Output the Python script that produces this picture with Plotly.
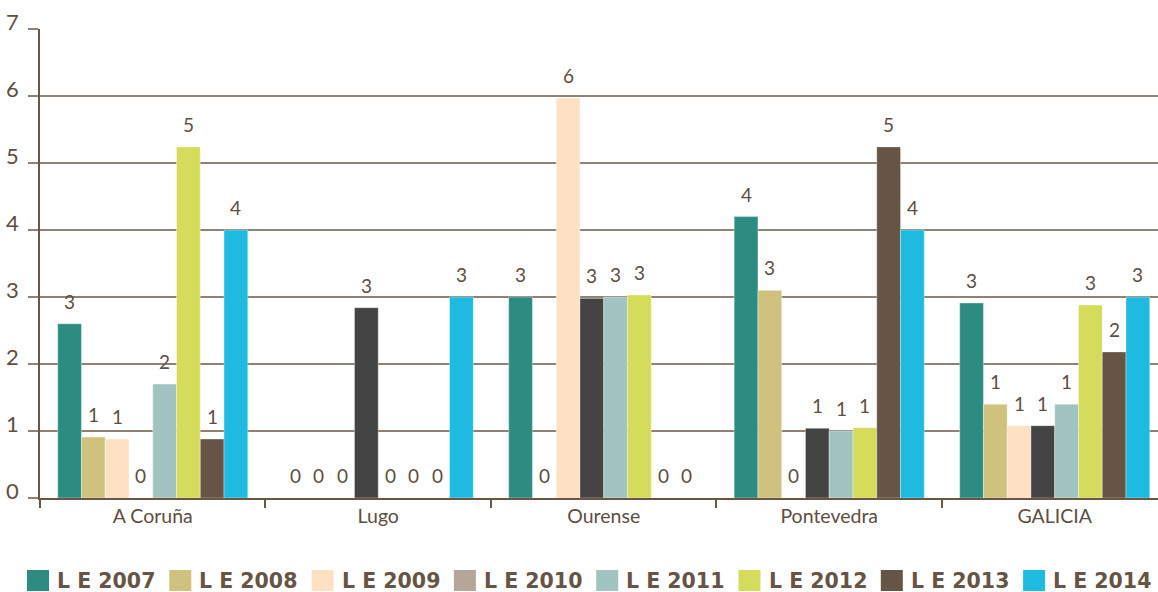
import plotly.graph_objects as go

categories = ["A Coruña", "Lugo", "Ourense", "Pontevedra", "GALICIA"]
series_names = ["L E 2007", "L E 2008", "L E 2009", "L E 2010",
                "L E 2011", "L E 2012", "L E 2013", "L E 2014"]
le_2007 = [2.6, 0.0, 3.0, 4.2, 2.91]
le_2008 = [0.91, 0.0, 0.0, 3.1, 1.40]
le_2009 = [0.88, 0.0, 5.97, 0.0, 1.08]
le_2010 = [0.0, 2.84, 2.98, 1.04, 1.08]
le_2011 = [1.70, 0.0, 3.0, 1.0, 1.40]
le_2012 = [5.24, 0.0, 3.03, 1.05, 2.88]
le_2013 = [0.88, 0.0, 0.0, 5.24, 2.18]
le_2014 = [4.0, 3.0, 0.0, 4.0, 3.0]
y_ticks = [0, 1, 2, 3, 4, 5, 6, 7]

series_values = [le_2007, le_2008, le_2009, le_2010, le_2011, le_2012, le_2013, le_2014]
bar_colors = ["#2d8c82", "#cfc27e", "#fee1c2", "#444444",
              "#a1c4c1", "#d5dc5b", "#665445", "#1fbadf"]
legend_colors = ["#2d8c82", "#cfc27e", "#fee1c2", "#b5a699",
                 "#a1c4c1", "#d5dc5b", "#665445", "#1fbadf"]

TEXT = "#5e4e42"
GRID = "#8f8175"
AXIS = "#6b5545"
FONT = "Lato"

BARGAP = 0.157
n = len(series_names)
bw = (1 - BARGAP) / n

fig = go.Figure()
annotations = []
for i, (name, vals) in enumerate(zip(series_names, series_values)):
    fig.add_trace(go.Bar(
        x=categories, y=vals, name=name, showlegend=False,
        marker=dict(color=bar_colors[i], line=dict(color="rgba(255,255,255,0.35)", width=1)),
        hoverinfo="x+y+name",
    ))
    for ci, v in enumerate(vals):
        xc = ci - (1 - BARGAP) / 2 + (i + 0.5) * bw
        annotations.append(dict(
            x=xc, y=v, xref="x", yref="y", text=str(round(v)),
            showarrow=False, yanchor="bottom", yshift=9,
            font=dict(family=FONT, size=19, color=TEXT),
        ))

# manual legend
PW = 1118.0
PH = 469.0
shapes = []
for i, name in enumerate(series_names):
    px0 = 27 + i * 142.3
    x0 = (px0 - 40) / PW
    x1 = (px0 + 22 - 40) / PW
    y0 = (498 - 591) / PH
    y1 = (498 - 570) / PH
    shapes.append(dict(type="rect", xref="paper", yref="paper", x0=x0, x1=x1, y0=y0, y1=y1,
                       fillcolor=legend_colors[i], line=dict(width=0), layer="above"))
    annotations.append(dict(
        x=(px0 + 28 - 40) / PW, y=(498 - 581) / PH, xref="paper", yref="paper",
        text="<b>" + name + "</b>", showarrow=False, xanchor="left", yanchor="middle",
        font=dict(family="DejaVu Sans", size=20.5, color="#665445"),
    ))

fig.update_layout(
    barmode="group", bargap=BARGAP, bargroupgap=0,
    width=1158, height=592,
    margin=dict(l=40, r=0, t=29, b=94, autoexpand=False),
    paper_bgcolor="white", plot_bgcolor="white",
    font=dict(family=FONT, color=TEXT),
    annotations=annotations, shapes=shapes,
    showlegend=False,
)
fig.update_xaxes(
    type="category", range=[-0.5, 4.458],
    tickson="boundaries", ticks="outside", ticklen=8, tickwidth=1.5, tickcolor=AXIS,
    showline=True, linecolor=AXIS, linewidth=1.5, showgrid=False,
    tickfont=dict(family=FONT, size=19.5, color=TEXT),
)
fig.update_yaxes(
    range=[0, 7], tickvals=y_ticks, ticktext=[str(t) for t in y_ticks],
    showgrid=True, gridcolor=GRID, gridwidth=1.5, zeroline=False,
    showline=True, linecolor=AXIS, linewidth=1.5,
    ticks="outside", ticklen=10, tickwidth=1.5, tickcolor=GRID,
    ticklabelshift=-7, ticklabelstandoff=5,
    tickfont=dict(family=FONT, size=22, color=TEXT),
)

fig.write_html(
    "out.html",
    config={"displayModeBar": False},
    post_script="document.body.style.margin='0';document.body.style.padding='0';document.body.style.overflow='hidden';",
)
